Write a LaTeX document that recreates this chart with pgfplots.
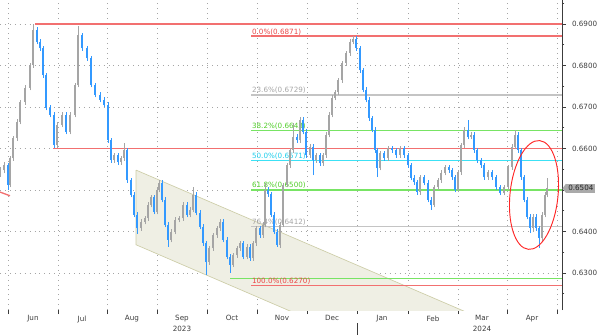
\documentclass[border=0pt]{standalone}
\usepackage{pgfplots}
\pgfplotsset{compat=1.18}
\usepackage{pgfplotstable}
\usetikzlibrary{shapes.geometric}
\usepackage{fontspec}
\setmainfont{DejaVu Sans}
\definecolor{candleblue}{RGB}{51,153,255}
\definecolor{candlegray}{RGB}{165,165,165}
\definecolor{fibred}{RGB}{242,112,112}
\definecolor{fibredt}{RGB}{235,70,70}
\definecolor{fibgray}{RGB}{196,196,196}
\definecolor{fibgrayt}{RGB}{165,165,165}
\definecolor{fibgreen}{RGB}{120,228,100}
\definecolor{fibgreent}{RGB}{80,205,40}
\definecolor{fibcyan}{RGB}{60,225,245}
\definecolor{fibcyant}{RGB}{30,205,235}
\definecolor{chanfill}{RGB}{239,239,228}
\definecolor{chanline}{RGB}{205,205,168}
\definecolor{gridc}{RGB}{165,165,165}
\definecolor{axisc}{RGB}{60,60,60}
\definecolor{tagc}{RGB}{170,170,170}
\pgfplotstableread{
x o h l c
0 0.6540 0.6556 0.6532 0.6548
4 0.6548 0.6568 0.6540 0.6560
8 0.6560 0.6566 0.6500 0.6512
10 0.6512 0.6583 0.6506 0.6577
13 0.6577 0.6631 0.6571 0.6625
17 0.6625 0.6670 0.6619 0.6664
20 0.6664 0.6718 0.6658 0.6712
25 0.6712 0.6752 0.6706 0.6746
30 0.6746 0.6807 0.6740 0.6801
33 0.6801 0.6900 0.6795 0.6886
37 0.6886 0.6892 0.6851 0.6857
40 0.6857 0.6863 0.6836 0.6842
43 0.6842 0.6848 0.6771 0.6777
46 0.6777 0.6783 0.6692 0.6698
50 0.6698 0.6704 0.6675 0.6681
54 0.6681 0.6687 0.6600 0.6608
57 0.6608 0.6663 0.6602 0.6657
62 0.6657 0.6687 0.6651 0.6681
66 0.6681 0.6687 0.6634 0.6640
70 0.6640 0.6687 0.6634 0.6681
75 0.6681 0.6759 0.6675 0.6753
78 0.6753 0.6895 0.6747 0.6873
82 0.6873 0.6879 0.6836 0.6842
87 0.6842 0.6848 0.6812 0.6818
91 0.6818 0.6824 0.6747 0.6753
95 0.6753 0.6759 0.6723 0.6729
100 0.6729 0.6735 0.6711 0.6717
104 0.6717 0.6723 0.6699 0.6705
108 0.6705 0.6711 0.6614 0.6620
111 0.6620 0.6626 0.6566 0.6572
114 0.6572 0.6590 0.6566 0.6584
118 0.6584 0.6590 0.6561 0.6567
121 0.6567 0.6583 0.6561 0.6577
124 0.6577 0.6613 0.6571 0.6596
127 0.6596 0.6602 0.6518 0.6524
131 0.6524 0.6530 0.6482 0.6488
134 0.6488 0.6494 0.6434 0.6440
137 0.6440 0.6446 0.6395 0.6408
141 0.6408 0.6429 0.6402 0.6423
145 0.6423 0.6438 0.6417 0.6432
148 0.6432 0.6470 0.6426 0.6464
151 0.6464 0.6489 0.6458 0.6483
154 0.6483 0.6489 0.6441 0.6447
157 0.6447 0.6506 0.6441 0.6500
159 0.6500 0.6524 0.6494 0.6517
162 0.6517 0.6523 0.6470 0.6476
165 0.6476 0.6482 0.6410 0.6416
168 0.6416 0.6422 0.6363 0.6380
171 0.6380 0.6405 0.6374 0.6399
175 0.6399 0.6434 0.6393 0.6428
179 0.6428 0.6438 0.6422 0.6432
183 0.6432 0.6470 0.6426 0.6464
187 0.6464 0.6470 0.6434 0.6440
190 0.6440 0.6458 0.6434 0.6452
193 0.6452 0.6507 0.6446 0.6488
196 0.6488 0.6494 0.6439 0.6445
200 0.6445 0.6451 0.6405 0.6411
203 0.6411 0.6417 0.6366 0.6372
206 0.6372 0.6378 0.6295 0.6326
209 0.6326 0.6366 0.6320 0.6360
213 0.6360 0.6397 0.6354 0.6391
217 0.6391 0.6414 0.6385 0.6408
220 0.6408 0.6429 0.6402 0.6423
223 0.6423 0.6429 0.6374 0.6380
227 0.6380 0.6386 0.6333 0.6339
230 0.6339 0.6345 0.6300 0.6320
233 0.6320 0.6349 0.6314 0.6343
237 0.6343 0.6366 0.6337 0.6360
240 0.6360 0.6378 0.6354 0.6372
243 0.6372 0.6378 0.6333 0.6339
247 0.6339 0.6369 0.6333 0.6363
250 0.6363 0.6369 0.6330 0.6336
253 0.6336 0.6378 0.6330 0.6372
256 0.6372 0.6414 0.6366 0.6408
260 0.6408 0.6414 0.6385 0.6391
263 0.6391 0.6422 0.6385 0.6416
265 0.6416 0.6517 0.6410 0.6500
268 0.6500 0.6506 0.6484 0.6490
271 0.6490 0.6496 0.6434 0.6440
274 0.6440 0.6446 0.6393 0.6399
277 0.6399 0.6405 0.6363 0.6367
280 0.6367 0.6422 0.6361 0.6416
283 0.6416 0.6518 0.6410 0.6512
287 0.6512 0.6566 0.6506 0.6560
290 0.6560 0.6602 0.6554 0.6596
293 0.6596 0.6661 0.6590 0.6628
297 0.6628 0.6634 0.6614 0.6620
300 0.6620 0.6676 0.6614 0.6669
303 0.6669 0.6675 0.6634 0.6640
306 0.6640 0.6646 0.6578 0.6584
310 0.6584 0.6610 0.6578 0.6604
313 0.6604 0.6610 0.6536 0.6572
316 0.6572 0.6590 0.6566 0.6584
320 0.6584 0.6590 0.6559 0.6565
323 0.6565 0.6590 0.6559 0.6584
326 0.6584 0.6639 0.6578 0.6633
329 0.6633 0.6687 0.6627 0.6681
332 0.6681 0.6728 0.6675 0.6722
335 0.6722 0.6742 0.6716 0.6736
338 0.6736 0.6771 0.6730 0.6765
342 0.6765 0.6812 0.6759 0.6806
346 0.6806 0.6836 0.6800 0.6830
350 0.6830 0.6863 0.6824 0.6857
353 0.6857 0.6871 0.6851 0.6865
356 0.6865 0.6871 0.6836 0.6842
360 0.6842 0.6848 0.6783 0.6789
363 0.6789 0.6795 0.6735 0.6741
366 0.6741 0.6747 0.6711 0.6717
369 0.6717 0.6723 0.6667 0.6673
372 0.6673 0.6679 0.6639 0.6645
375 0.6645 0.6651 0.6590 0.6596
377 0.6596 0.6602 0.6531 0.6553
380 0.6553 0.6595 0.6547 0.6589
384 0.6589 0.6595 0.6571 0.6577
388 0.6577 0.6607 0.6571 0.6601
392 0.6601 0.6607 0.6590 0.6596
396 0.6596 0.6602 0.6578 0.6584
400 0.6584 0.6607 0.6578 0.6601
404 0.6601 0.6607 0.6578 0.6584
408 0.6584 0.6590 0.6554 0.6560
411 0.6560 0.6566 0.6523 0.6529
414 0.6529 0.6535 0.6513 0.6519
417 0.6519 0.6525 0.6489 0.6495
420 0.6495 0.6537 0.6489 0.6531
424 0.6531 0.6537 0.6511 0.6517
428 0.6517 0.6523 0.6470 0.6476
431 0.6476 0.6482 0.6452 0.6464
434 0.6464 0.6513 0.6458 0.6507
438 0.6507 0.6530 0.6501 0.6524
441 0.6524 0.6547 0.6518 0.6541
445 0.6541 0.6561 0.6535 0.6555
449 0.6555 0.6561 0.6542 0.6548
452 0.6548 0.6554 0.6525 0.6531
455 0.6531 0.6537 0.6494 0.6500
458 0.6500 0.6549 0.6494 0.6543
461 0.6543 0.6614 0.6537 0.6608
464 0.6608 0.6651 0.6602 0.6645
468 0.6645 0.6669 0.6622 0.6628
471 0.6628 0.6639 0.6622 0.6633
474 0.6633 0.6639 0.6590 0.6596
477 0.6596 0.6602 0.6566 0.6572
481 0.6572 0.6578 0.6554 0.6560
484 0.6560 0.6566 0.6525 0.6531
488 0.6531 0.6549 0.6525 0.6543
492 0.6543 0.6549 0.6525 0.6531
496 0.6531 0.6537 0.6501 0.6507
500 0.6507 0.6513 0.6487 0.6493
504 0.6493 0.6513 0.6487 0.6507
508 0.6507 0.6561 0.6501 0.6555
512 0.6555 0.6610 0.6549 0.6604
515 0.6604 0.6645 0.6598 0.6633
518 0.6633 0.6639 0.6590 0.6596
521 0.6596 0.6602 0.6525 0.6531
524 0.6531 0.6537 0.6470 0.6476
527 0.6476 0.6482 0.6429 0.6435
530 0.6435 0.6441 0.6396 0.6408
533 0.6408 0.6441 0.6402 0.6435
536 0.6435 0.6441 0.6402 0.6408
539 0.6408 0.6414 0.6360 0.6384
542 0.6384 0.6446 0.6378 0.6440
545 0.6440 0.6494 0.6434 0.6488
547 0.6488 0.6530 0.6482 0.6504
}\candles
\newcommand{\sm}{\fontsize{5.4}{8.2}\selectfont}
\pgfplotsset{
  candle/.style={draw=none, fill=none, mark=none, mark size=0pt,
    error bars/y dir=plus, error bars/y explicit, error bars/error mark=none},
}
\begin{document}
\begin{tikzpicture}
\begin{axis}[
  at={(0,0)}, anchor=north west,
  scale only axis, width=421.5pt, height=232.5pt,
  xmin=0, xmax=562, ymin=0.62107, ymax=0.69578,
  clip mode=individual,
  axis x line*=bottom, axis y line*=right,
  x axis line style={draw=none},
  y axis line style={-, draw=axisc, line width=0.7pt},
  tick align=outside,
  major tick length=3pt, minor tick length=1.8pt,
  tick style={axisc, line width=0.6pt},
  xtick={8,58,107,157,207,257,307,357,408,458,507,557},
  xticklabels={,,,,,,,,,,,},
  extra x ticks={33,82,132,182,232,282,332,382,433,482,532},
  extra x tick labels={Jun,Jul,Aug,{Sep\\2023},Oct,Nov,Dec,Jan,Feb,{Mar\\2024},Apr},
  extra x tick style={grid=none, major tick length=0pt},
  xticklabel style={align=center, font=\sm, text=axisc, inner sep=1pt, yshift=-3pt},
  ytick={0.63,0.64,0.66,0.67,0.68,0.69},
  minor ytick={0.625,0.635,0.645,0.65,0.655,0.665,0.675,0.685,0.695},
  /pgf/number format/assume math mode=true,
  yticklabel={\pgfmathprintnumber[fixed,fixed zerofill,precision=4]{\tick}},
  yticklabel style={font=\sm, text=axisc, xshift=1pt},
  xmajorgrids, ymajorgrids,
  major grid style={gridc, line width=0.5pt, dash pattern=on 0.6pt off 3.1pt},
]
% extra grid line at 0.65
\addplot[gridc, line width=0.5pt, dash pattern=on 0.6pt off 3.1pt] coordinates {(0,0.65) (562,0.65)};
% channel
\addplot[fill=chanfill, draw=chanline, line width=0.5pt] coordinates {(136,0.6548) (600,0.6067) (600,0.5887) (136,0.6368) (136,0.6548)};
% horizontal levels
\addplot[fibred, line width=1.2pt] coordinates {(35,0.6900) (562,0.6900)};
\addplot[fibred, line width=1.2pt] coordinates {(53,0.6600) (562,0.6600)};
\addplot[fibred, line width=1pt] coordinates {(251,0.6871) (562,0.6871)};
\addplot[fibgray, line width=1pt] coordinates {(251,0.6729) (562,0.6729)};
\addplot[fibgreen, line width=1pt] coordinates {(251,0.6643) (562,0.6643)};
\addplot[fibcyan, line width=1pt] coordinates {(251,0.6571) (562,0.6571)};
\addplot[fibgreen, line width=1pt] coordinates {(251,0.6500) (562,0.6500)};
\addplot[fibgray, line width=1pt] coordinates {(251,0.6412) (562,0.6412)};
\addplot[fibgreen, line width=1pt] coordinates {(230,0.6286) (562,0.6286)};
\addplot[fibred, line width=1pt] coordinates {(251,0.6270) (562,0.6270)};
\addplot[fibred, line width=1pt] coordinates {(0,0.6495) (10,0.6486)};
% fib labels
\node[anchor=south west, inner sep=0.6pt, font=\sm, text=fibredt] at (axis cs:251,0.6871) {0.0\%(0.6871)};
\node[anchor=south west, inner sep=0.6pt, font=\sm, text=fibgrayt] at (axis cs:251,0.6729) {23.6\%(0.6729)};
\node[anchor=south west, inner sep=0.6pt, font=\sm, text=fibgreent] at (axis cs:251,0.6643) {38.2\%(0.6643)};
\node[anchor=south west, inner sep=0.6pt, font=\sm, text=fibcyant] at (axis cs:251,0.6571) {50.0\%(0.6571)};
\node[anchor=south west, inner sep=0.6pt, font=\sm, text=fibgreent] at (axis cs:251,0.6500) {61.8\%(0.6500)};
\node[anchor=south west, inner sep=0.6pt, font=\sm, text=fibgrayt] at (axis cs:251,0.6412) {76.4\%(0.6412)};
\node[anchor=south west, inner sep=0.6pt, font=\sm, text=fibredt] at (axis cs:251,0.6270) {100.0\%(0.6270)};
% candles: wicks
\addplot[candle, restrict expr to domain={\thisrow{c}-\thisrow{o}}{0:1},
  error bars/error bar style={draw=candlegray, line width=0.7pt}]
  table[x=x, y=l, y error expr=\thisrow{h}-\thisrow{l}] {\candles};
\addplot[candle, restrict expr to domain={\thisrow{c}-\thisrow{o}}{-1:0},
  error bars/error bar style={draw=candleblue, line width=0.7pt}]
  table[x=x, y=l, y error expr=\thisrow{h}-\thisrow{l}] {\candles};
% candles: bodies
\addplot[candle, restrict expr to domain={\thisrow{c}-\thisrow{o}}{0:1},
  error bars/error bar style={draw=candlegray, line width=2pt}]
  table[x=x, y=o, y error expr=\thisrow{c}-\thisrow{o}] {\candles};
\addplot[candle, restrict expr to domain={\thisrow{c}-\thisrow{o}}{-1:0},
  error bars/error bar style={draw=candleblue, line width=2pt}]
  table[x=x, y=c, y error expr=\thisrow{o}-\thisrow{c}] {\candles};
% ellipse annotation
\node[ellipse, draw=red!85!white, line width=0.7pt, minimum width=36pt, minimum height=82pt, inner sep=0pt, rotate=-6] at (axis cs:534,0.6488) {};
% current price tag
\node[anchor=west, fill=tagc, font=\sm, text=black!85, inner xsep=1.5pt, inner ysep=1.2pt] (tag) at (axis cs:566,0.6504) {0.6504};
\fill[tagc] (tag.north west) -- ([xshift=-2.6pt]tag.west) -- (tag.south west) -- cycle;
% year separator
\draw[axisc, line width=0.5pt] ([yshift=-9.75pt]axis cs:357,0.62107) -- ++(0,-9pt);
\end{axis}
\pgfresetboundingbox
\path[use as bounding box] (0,0) rectangle (450pt,-251.25pt);
\end{tikzpicture}
\end{document}
